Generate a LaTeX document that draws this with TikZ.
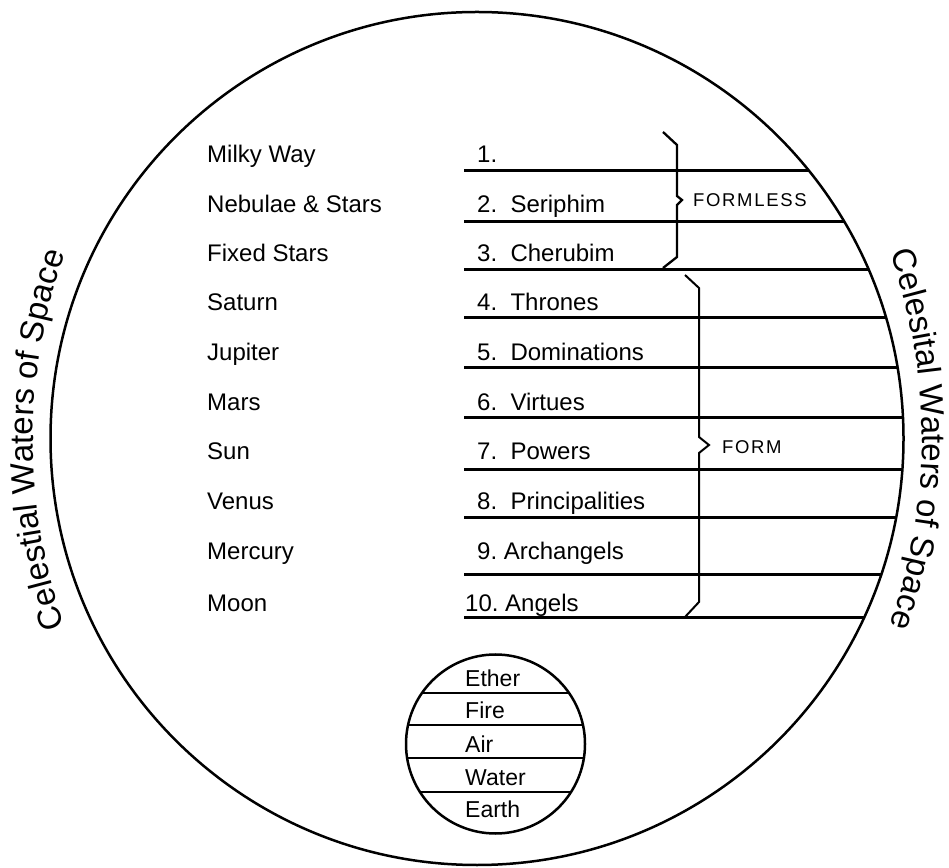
\documentclass[tikz,border=0pt]{standalone}
\usepackage{fontspec}
\setmainfont{Liberation Sans}
\usepackage{tikz}
\usetikzlibrary{decorations.text}
\frenchspacing

\newcommand{\labelfont}{\fontsize{24}{28}\selectfont}
\newcommand{\groupfont}{\fontsize{18.5}{20}\selectfont\addfontfeatures{LetterSpace=9}}
\newcommand{\arcfont}{\fontsize{33}{36}\selectfont}

\begin{document}
\begin{tikzpicture}[x=1pt,y=1pt,
		sphereline/.style={line width=3pt},
		orbit/.style={line width=2.5pt},
		bracket/.style={line width=2.3pt, line join=miter},
		rowlabel/.style={anchor=base west, inner sep=0pt, font=\labelfont},
		grouplabel/.style={anchor=west, inner sep=0pt, font=\groupfont},
		arctext/.style={decorate, decoration={text along path, text align=center, text={|\arcfont|#1}}}]
		\useasboundingbox (0,0) rectangle (949,867);
		% Radii: heavens, elements, lettering arc
		\def\rO{426.5}
		\def\rE{89.5}
		\def\rT{560}
		\coordinate (heaven) at (477,428.5);
		\coordinate (earth) at (495.5,123);
		% Ruled spheres, cut off by the outer circle
		\begin{scope}
			\clip (heaven) circle[radius=\rO];
			\foreach \y in {696,645,597,549,499,449,397,349,292,249}
				\draw[sphereline] (464,\y) -- (949,\y);
		\end{scope}
		\draw[orbit] (heaven) circle[radius=\rO];
		% Planets on the left, choirs on the right
		\foreach \planet/\x/\choir/\y [count=\i] in {Milky Way/477/1./704, Nebulae \& Stars/477/2.~~Seriphim/654, Fixed Stars/477/3.~~Cherubim/605, Saturn/477/4.~~Thrones/556, Jupiter/477/5.~~Dominations/506, Mars/477/6.~~Virtues/456, Sun/477/7.~~Powers/407, Venus/477/8.~~Principalities/357, Mercury/477/9. Archangels/307, Moon/465/10. Angels/255}{
			\node[rowlabel] (planet\i) at (207,\y) {\planet};
			\node[rowlabel] (choir\i) at (\x,\y) {\choir};
		}
		% Braces for the two groups
		\draw[bracket] (663,735) -- (677,722) -- (677,671) -- (682,667) -- (677,662) -- (677,610) -- (663,599);
		\node[grouplabel] (formless) at (693,667) {FORMLESS};
		\draw[bracket, line width=2pt] (685,592) -- (699,579) -- (699,430) -- (709,422) -- (699,414) -- (699,265) -- (685,250);
		\node[grouplabel] (form) at (722,420) {FORM};
		% Sphere of the elements
		\begin{scope}
			\clip (earth) circle[radius=\rE];
			\foreach \y in {174,142,109,75}
				\draw[orbit] (400,\y) -- (600,\y);
		\end{scope}
		\draw[orbit] (earth) circle[radius=\rE];
		\foreach \element/\y [count=\i] in {Ether/181, Fire/149, Air/115, Water/82, Earth/50}
			\node[rowlabel, font=\fontsize{23}{26}\selectfont] (element\i) at (465,\y) {\element};
		% Waters of space, lettered along the rim
		\path[arctext={Celestial Waters of Space}] ([shift={(205:\rT)}]593,427) arc[start angle=205, end angle=155, radius=\rT];
		\path[arctext={Celesital Waters of Space}] ([shift={(25:\rT)}]362,428) arc[start angle=25, end angle=-25, radius=\rT];
	\end{tikzpicture}
\end{document}
